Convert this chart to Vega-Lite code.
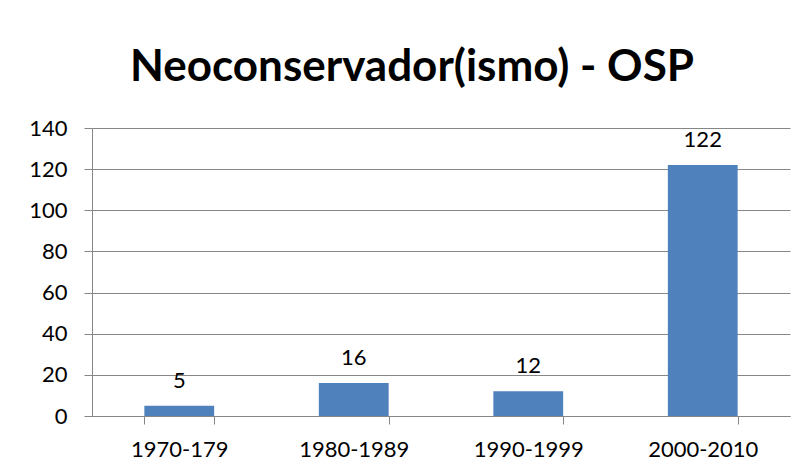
{
  "$schema": "https://vega.github.io/schema/vega-lite/v6.json",
  "autosize": "none",
  "width": 698,
  "height": 288,
  "padding": {"left": 92, "top": 128, "right": 15, "bottom": 57},
  "background": "white",
  "title": {
    "text": "Neoconservador(ismo) - OSP",
    "font": "Lato",
    "fontSize": 44,
    "fontWeight": "bold",
    "color": "#000000",
    "anchor": "middle",
    "baseline": "alphabetic",
    "offset": 46,
    "dy": 54,
    "dx": -29
  },
  "data": {
    "values": [
      {"period": "1970-179", "count": 5},
      {"period": "1980-1989", "count": 16},
      {"period": "1990-1999", "count": 12},
      {"period": "2000-2010", "count": 122}
    ]
  },
  "encoding": {
    "x": {
      "field": "period",
      "type": "nominal",
      "sort": null,
      "scale": {"paddingInner": 0.6, "paddingOuter": 0.3},
      "axis": {
        "title": null,
        "labelAngle": 0,
        "tickBand": "extent",
        "grid": false,
        "domainColor": "#868686",
        "tickColor": "#868686",
        "tickSize": 8,
        "labelFont": "Lato",
        "labelFontSize": 22,
        "labelColor": "#000000",
        "labelPadding": 15
      }
    },
    "y": {
      "field": "count",
      "type": "quantitative",
      "scale": {"domain": [0, 140], "nice": false},
      "axis": {
        "title": null,
        "values": [0, 20, 40, 60, 80, 100, 120, 140],
        "grid": true,
        "gridColor": "#868686",
        "domainColor": "#868686",
        "tickColor": "#868686",
        "tickSize": 8,
        "labelFont": "Lato",
        "labelFontSize": 22,
        "labelColor": "#000000",
        "labelPadding": 17
      }
    }
  },
  "layer": [
    {"mark": {"type": "bar", "color": "#4F81BD"}},
    {
      "mark": {"type": "text", "font": "Lato", "fontSize": 22, "color": "#000000", "baseline": "alphabetic", "dy": -18},
      "encoding": {"text": {"field": "count", "type": "quantitative"}}
    }
  ],
  "config": {"view": {"stroke": null}}
}
